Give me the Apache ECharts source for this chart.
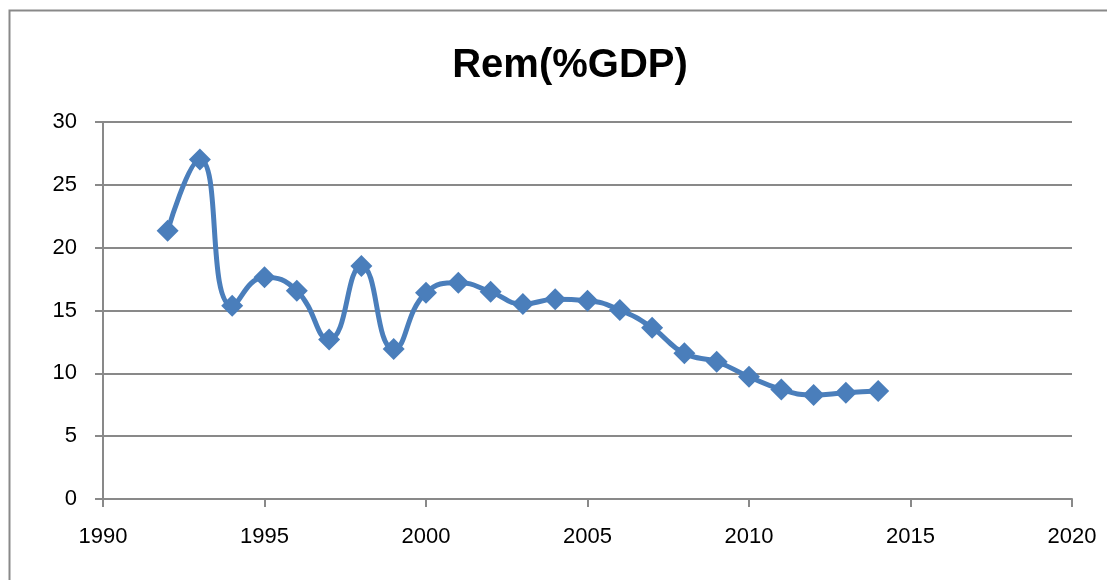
<!DOCTYPE html>
<html>
<head>
<meta charset="utf-8">
<script src="https://cdn.jsdelivr.net/npm/echarts@6/dist/echarts.min.js"></script>
<style>
html, body { margin: 0; padding: 0; background: #fff; }
#chart { width: 1107px; height: 580px; }
</style>
</head>
<body>
<div id="chart"></div>
<script>
var years = [1992, 1993, 1994, 1995, 1996, 1997, 1998, 1999, 2000, 2001, 2002, 2003,
    2004, 2005, 2006, 2007, 2008, 2009, 2010, 2011, 2012, 2013, 2014];
var remValues = [21.35, 27.02, 15.38, 17.64, 16.57, 12.7, 18.54, 11.93, 16.41, 17.21, 16.49, 15.51,
    15.89, 15.78, 15.04, 13.63, 11.59, 10.92, 9.73, 8.72, 8.27, 8.46, 8.59];
var chartTitle = 'Rem(%GDP)';

var axisGray = '#898989';
var fontName = 'Liberation Sans';

var chartDom = echarts.init(document.getElementById('chart'));

var points = [];
for (var i = 0; i < years.length; i++) {
    points.push([years[i], remValues[i]]);
}

var option = {
    animation: false,
    backgroundColor: '#fff',
    textStyle: { fontFamily: fontName },
    title: {
        text: chartTitle,
        left: 565,
        top: 41,
        textAlign: 'center',
        textStyle: { fontSize: 40, fontWeight: 'bold', color: '#000', fontFamily: fontName }
    },
    graphic: [{
        type: 'rect',
        shape: { x: 9.5, y: 10.5, width: 1200, height: 600 },
        style: { fill: 'none', stroke: axisGray, lineWidth: 2 },
        silent: true
    }],
    grid: {
        left: 103,
        right: 35,
        top: 122,
        bottom: 81
    },
    xAxis: {
        type: 'value',
        min: 1990,
        max: 2020,
        interval: 5,
        axisLine: { show: true, onZero: false, lineStyle: { color: axisGray, width: 2 } },
        axisTick: { show: true, length: 8, lineStyle: { color: axisGray, width: 2 } },
        axisLabel: {
            color: '#000', fontSize: 22, margin: 27, fontFamily: fontName,
            formatter: function (v) { return String(v); }
        },
        splitLine: { show: false }
    },
    yAxis: {
        type: 'value',
        min: 0,
        max: 30,
        interval: 5,
        axisLine: { show: true, lineStyle: { color: axisGray, width: 2 } },
        axisTick: { show: true, length: 8, lineStyle: { color: axisGray, width: 2 } },
        axisLabel: { color: '#000', fontSize: 22, margin: 26, fontFamily: fontName },
        splitLine: { show: true, lineStyle: { color: axisGray, width: 2 } }
    },
    series: [{
        name: chartTitle,
        type: 'line',
        data: points,
        smooth: 0.5,
        symbol: 'diamond',
        symbolSize: 22,
        lineStyle: { width: 5, color: '#4a7ebb' },
        itemStyle: { color: '#4a7ebb' }
    }]
};
chartDom.setOption(option);
</script>
</body>
</html>
